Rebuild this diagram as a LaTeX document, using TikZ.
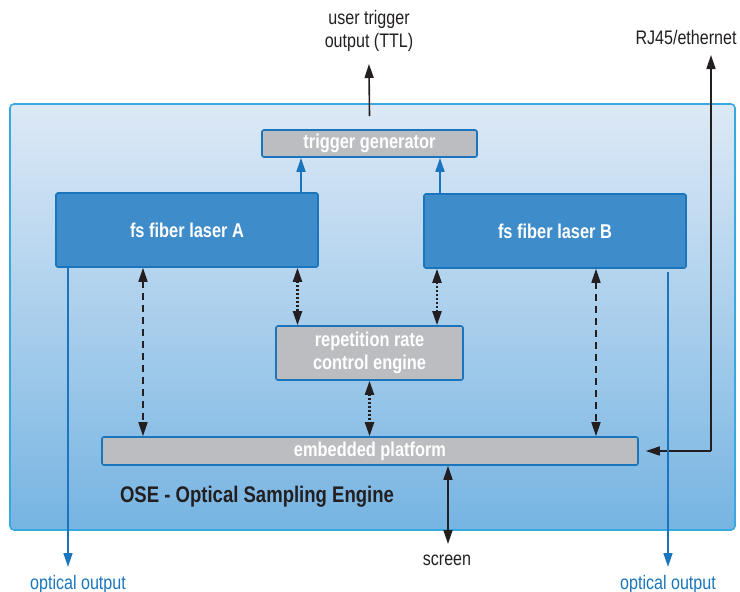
\documentclass[tikz,border=0pt]{standalone}
\usepackage{fontspec}
\setmainfont{Liberation Sans}[FakeStretch=0.82]
\usepackage{tikz}
\usetikzlibrary{arrows.meta}

\definecolor{laserblue}{HTML}{3F8CCB}
\definecolor{edgeblue}{HTML}{1A75BC}
\definecolor{boxgray}{HTML}{BCBDC0}
\definecolor{frameblue}{HTML}{38A9E0}
\definecolor{frametop}{HTML}{DDE9F6}
\definecolor{framebot}{HTML}{76B4E2}
\definecolor{inkdark}{HTML}{231F20}

\begin{document}
\begin{tikzpicture}[
                x=0.5pt, y=-0.5pt,
                font=\fontsize{9.8}{11.5}\selectfont,
                frame/.style={draw=frameblue, line width=0.8pt, rounded corners=2pt, top color=frametop, bottom color=framebot, minimum width=362.5pt, minimum height=213pt},
                laser/.style={draw=edgeblue, line width=0.8pt, rounded corners=1pt, fill=laserblue, text=white, font=\fontsize{10}{12}\selectfont\bfseries, minimum width=131pt, minimum height=37pt},
                graybox/.style={draw=edgeblue, line width=0.8pt, rounded corners=1pt, fill=boxgray, text=white, font=\fontsize{10}{11.8}\selectfont\bfseries, inner sep=0pt, align=center},
                label/.style={text=inkdark, align=center},
                blabel/.style={text=edgeblue},
                tip/.style={-{Triangle[length=7pt,width=4.5pt]}},
                bothtips/.style={{Triangle[length=7pt,width=4.5pt]}-{Triangle[length=7pt,width=4.5pt]}},
                blackline/.style={draw=inkdark, line width=0.8pt},
                blueline/.style={draw=edgeblue, line width=0.8pt, tip},
                dashlink/.style={blackline, bothtips, dash pattern=on 3.5pt off 2.5pt},
                dotlink/.style={blackline, line width=1.1pt, bothtips, dash pattern=on 1pt off 1pt}
                ]
                \useasboundingbox (0,0) rectangle (740,591);
                \node[frame] (ose) at (372.5,317) {};
                \node[text=inkdark, font=\fontsize{11.3}{13}\selectfont\bfseries] (osetext) at (257,497) {OSE - Optical Sampling Engine};
                \node[graybox, minimum width=107.5pt, minimum height=13.5pt] (trig) at (369.5,143.5) {trigger generator};
                \node[laser] (laserA) at (187,230) {fs fiber laser A};
                \node[laser] (laserB) at (555,231) {fs fiber laser B};
                \node[graybox, minimum width=93.5pt, minimum height=27pt] (reprate) at (369.5,353) {repetition rate\\control engine};
                \node[graybox, minimum width=268pt, minimum height=14pt] (embedded) at (370,451) {embedded platform};

                \node[label] (ttl) at (369,31) {user trigger\\output (TTL)};
                \node[label] (rj45) at (686,37) {RJ45/ethernet};
                \node[label] (screen) at (447,560) {screen};
                \node[blabel] (outA) at (78,584) {optical output};
                \node[blabel] (outB) at (668,584) {optical output};

                \coordinate (ttltip) at (369,64);
                \coordinate (rjtip) at (711,55);
                \coordinate (rjcorner) at (711,451);
                \coordinate (screentip) at (448,544);
                \coordinate (outAtip) at (68,567);
                \coordinate (outBtip) at (668,567);

                \draw[blueline] ([xshift=57pt]laserA.north) -- ([xshift=57pt]laserA.north |- trig.south);
                \draw[blueline] ([xshift=-57.5pt]laserB.north) -- ([xshift=-57.5pt]laserB.north |- trig.south);
                \draw[blackline, tip] ([yshift=6.5pt]trig.north) -- (ttltip);

                \draw[dashlink] (laserA.south -| 143,0) -- (embedded.north -| 143,0);
                \draw[dotlink] (laserA.south -| 297.5,0) -- (reprate.north -| 297.5,0);
                \draw[dotlink] (laserB.south -| 437,0) -- (reprate.north -| 437,0);
                \draw[dashlink] (laserB.south -| 596,0) -- (embedded.north -| 596,0);
                \draw[dotlink] (reprate.south -| 369.5,0) -- (embedded.north -| 369.5,0);
                \draw[blackline, bothtips] (embedded.south -| screentip) -- (screentip);

                \draw[blackline, tip] (rjcorner) -- (rjtip);
                \draw[blackline, tip] (rjcorner) -- ([xshift=3.5pt]embedded.east);

                \draw[blueline] (laserA.south -| outAtip) -- (outAtip);
                \draw[blueline] ([yshift=-1.5pt]laserB.south -| outBtip) -- (outBtip);
                \end{tikzpicture}
\end{document}
